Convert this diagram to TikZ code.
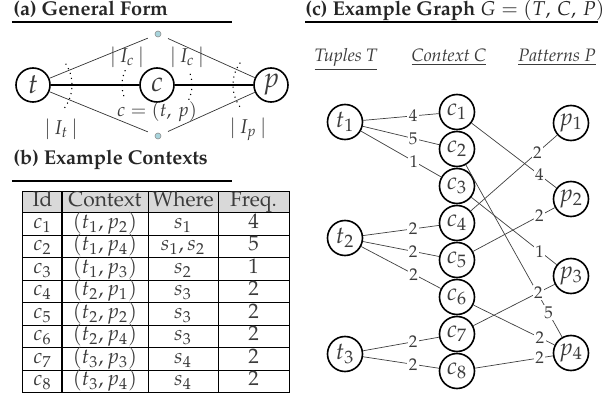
\documentclass[tikz,border=0pt]{standalone}
\usepackage[T1]{fontenc}
\usepackage{mathpazo}
\usetikzlibrary{calc}
\definecolor{txt}{HTML}{3C3C3C}
\definecolor{ttl}{HTML}{262626}
\definecolor{dotblue}{HTML}{A8D4DC}
\definecolor{hdr}{HTML}{D9D9D9}
\begin{document}
\begin{tikzpicture}[x=0.5pt,y=-0.5pt,
  every node/.style={text=txt},
  title/.style={anchor=base west, inner sep=0pt, font=\bfseries, text=ttl},
  rulel/.style={line width=1pt, draw=black},
  avtx/.style={circle, draw=black, line width=0.8pt, minimum size=17pt, inner sep=0pt, font=\fontsize{14}{16}\selectfont},
  gvtx/.style={circle, draw=black, line width=0.8pt, minimum size=17.5pt, inner sep=0pt, font=\fontsize{12}{14}\selectfont},
  dotnode/.style={circle, fill=dotblue, draw=black!45, line width=0.3pt, minimum size=3pt, inner sep=0pt, outer sep=4pt},
  thinl/.style={draw=black!80, line width=0.35pt},
  arcl/.style={dotted, line width=0.55pt, draw=black},
  edgel/.style={draw=black!75, line width=0.35pt},
  elab/.style={fill=white, inner sep=0.7pt, font=\fontsize{8.5}{9}\selectfont},
  cell/.style={anchor=base, inner sep=0pt, font=\fontsize{10.5}{12}\selectfont},
  head/.style={anchor=base, inner sep=0pt, font=\fontsize{9}{11}\selectfont\itshape}]
\useasboundingbox (0,0) rectangle (607,401);

% ---------- (a) General Form ----------
\node[title] (ta) at (13,16) {(a) General Form};
\draw[rulel] (12,22.5) -- (232,22.5);
\node[avtx] (t) at (33,85) {$t$};
\node[avtx] (c) at (157,85) {$c$};
\node[avtx] (p) at (271,85) {$p$};
\node[dotnode] (d1) at (158,34) {};
\node[dotnode] (d2) at (158,136) {};
\draw[thinl] (t) -- (d1);
\draw[thinl] (d1) -- (p);
\draw[thinl] (t) -- (d2);
\draw[thinl] (d2) -- (p);
\draw[line width=0.6pt] (t) -- (c);
\draw[line width=0.6pt] (c) -- (p);
\draw[arcl] ($(t)+(-36:19.5pt)$) arc[start angle=-36, end angle=36, radius=19.5pt];
\draw[arcl] ($(c)+(155:17.5pt)$) arc[start angle=155, end angle=205, radius=17.5pt];
\draw[arcl] ($(c)+(-25:17.5pt)$) arc[start angle=-25, end angle=25, radius=17.5pt];
\draw[arcl] ($(p)+(144:19pt)$) arc[start angle=144, end angle=216, radius=19pt];
\node (lic1) at (127,57) {$|\,I_c\,|$};
\node (lic2) at (187,57) {$|\,I_c\,|$};
\node (lit) at (61,129) {$|\,I_t\,|$};
\node (lip) at (248,129) {$|\,I_p\,|$};
\node[font=\fontsize{9.5}{11}\selectfont, inner sep=0.5pt] (ceq) at (157,112) {$c=(t,\,p)$};

% ---------- (b) Example Contexts ----------
\node[title] (tb) at (13,165) {(b) Example Contexts};
\draw[rulel] (12,181.5) -- (232,181.5);
\fill[hdr] (23,191.5) rectangle (289,213);
\draw[line width=0.5pt] (23,191.5) rectangle (289,393);
\foreach \xx in {62,148,218} \draw[line width=0.5pt] (\xx,191.5) -- (\xx,393);
\foreach \k in {0,...,7} \draw[line width=0.5pt] (23,213+22.5*\k) -- (289,213+22.5*\k);
\node[cell] (h1) at (42.5,207) {Id};
\node[cell] (h2) at (105,207) {Context};
\node[cell] (h3) at (183,207) {Where};
\node[cell] (h4) at (253.5,207) {Freq.};
\foreach \k/\ti/\pj/\wh/\fr in {1/1/2/{s_1}/4, 2/1/4/{s_1, s_2}/5, 3/1/3/{s_2}/1, 4/2/1/{s_3}/2, 5/2/2/{s_3}/2, 6/2/4/{s_3}/2, 7/3/3/{s_4}/2, 8/3/4/{s_4}/2}{
  \node[cell] (id\k) at (42.5,228.5+22.5*\k-22.5) {$c_{\k}$};
  \node[cell] (cx\k) at (105,228.5+22.5*\k-22.5) {$(t_{\ti}, p_{\pj})$};
  \node[cell] (wh\k) at (183,228.5+22.5*\k-22.5) {$\wh$};
  \node[cell] (fr\k) at (253.5,228.5+22.5*\k-22.5) {\fr};
}

% ---------- (c) Example Graph ----------
\node[title] (tc) at (305,16) {(c) Example Graph \mdseries$G=(T,\,C,\,P)$};
\draw[rulel] (305,22.5) -- (598,22.5);
\node[head] (hT) at (346,62) {\underline{Tuples T}};
\node[head] (hC) at (449,62) {\underline{Context C}};
\node[head] (hP) at (557,62) {\underline{Patterns P}};

\node[gvtx] (t1) at (345,122) {$t_1$};
\node[gvtx] (t2) at (345,238) {$t_2$};
\node[gvtx] (t3) at (345,354) {$t_3$};
\foreach \k in {1,...,8} \node[gvtx] (c\k) at (457,112+37*\k-37) {$c_{\k}$};
\node[gvtx] (p1) at (571,123) {$p_1$};
\node[gvtx] (p2) at (571,199) {$p_2$};
\node[gvtx] (p3) at (571,276) {$p_3$};
\node[gvtx] (p4) at (571,353) {$p_4$};

\draw[edgel] (t1) -- node[elab, pos=0.66] {4} (c1);
\draw[edgel] (t1) -- node[elab, pos=0.66] {5} (c2);
\draw[edgel] (t1) -- node[elab, pos=0.66] {1} (c3);
\draw[edgel] (t2) -- node[elab, pos=0.66] {2} (c4);
\draw[edgel] (t2) -- node[elab, pos=0.66] {2} (c5);
\draw[edgel] (t2) -- node[elab, pos=0.66] {2} (c6);
\draw[edgel] (t3) -- node[elab, pos=0.66] {2} (c7);
\draw[edgel] (t3) -- node[elab, pos=0.66] {2} (c8);

\draw[edgel] (c1) -- node[elab, pos=0.80] {4} (p2);
\draw[edgel] (c2) -- node[elab, pos=0.86] {5} (p4);
\draw[edgel] (c3) -- node[elab, pos=0.80] {1} (p3);
\draw[edgel] (c4) -- node[elab, pos=0.77] {2} (p1);
\draw[edgel] (c5) -- node[elab, pos=0.81] {2} (p2);
\draw[edgel] (c6) -- node[elab, pos=0.82] {2} (p4);
\draw[edgel] (c7) -- node[elab, pos=0.80] {2} (p3);
\draw[edgel] (c8) -- node[elab, pos=0.83] {2} (p4);
\end{tikzpicture}
\end{document}
